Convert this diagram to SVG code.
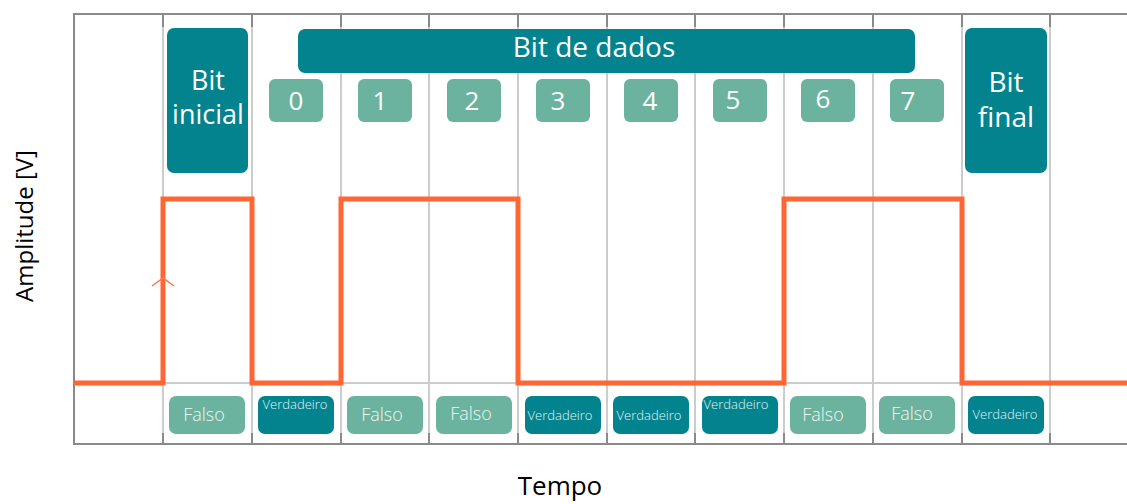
<svg xmlns="http://www.w3.org/2000/svg" width="1127" height="504" viewBox="0 0 1127 504">
<style>
.grid{stroke:#cccccc;stroke-width:2;fill:none}
.tick{stroke:#8a8a8a;stroke-width:2;fill:none}
.frame{stroke:#8a8a8a;stroke-width:2;fill:none}
.teal{fill:#02838E}
.green{fill:#6BB39E}
.big{font-family:"Open Sans","Noto Sans",sans-serif;fill:#ffffff;text-anchor:middle}
.lbl{font-family:"Open Sans","Noto Sans",sans-serif;fill:#000000;text-anchor:middle}
.f{font-family:"Open Sans","Noto Sans",sans-serif;font-weight:300;fill:#eef7f4;text-anchor:middle;font-size:18px}
.v{font-family:"Open Sans","Noto Sans",sans-serif;font-weight:300;fill:#e6f4f4;text-anchor:middle;font-size:13px}
.sig{stroke:#FF6633;stroke-width:5;fill:none}
</style>
<rect width="1127" height="504" fill="#ffffff"/>
<g id="grid">
<line class="grid" x1="74" y1="383" x2="1127" y2="383"/>
<line class="grid" x1="163" y1="14" x2="163" y2="444"/>
<line class="grid" x1="252" y1="14" x2="252" y2="444"/>
<line class="grid" x1="341" y1="14" x2="341" y2="444"/>
<line class="grid" x1="429" y1="14" x2="429" y2="444"/>
<line class="grid" x1="518" y1="14" x2="518" y2="444"/>
<line class="grid" x1="607" y1="14" x2="607" y2="444"/>
<line class="grid" x1="695" y1="14" x2="695" y2="444"/>
<line class="grid" x1="784" y1="14" x2="784" y2="444"/>
<line class="grid" x1="873" y1="14" x2="873" y2="444"/>
<line class="grid" x1="962" y1="14" x2="962" y2="444"/>
<line class="grid" x1="1050" y1="14" x2="1050" y2="444"/>
<path class="tick" d="M163 14V27M252 14V27M341 14V27M429 14V27M518 14V27M607 14V27M695 14V27M784 14V27M873 14V27M962 14V27M1050 14V27"/>
<path class="tick" d="M163 433V444M252 433V444M341 433V444M429 433V444M518 433V444M607 433V444M695 433V444M784 433V444M873 433V444M962 433V444M1050 433V444"/>
<path class="frame" d="M1127 14H74V444H1127"/>
</g>
<g id="connectors">
<path id="signal" class="sig" d="M74 383H163V199H252V383H341V199H518V383H784V199H962V383H1127"/>
<path d="M152 286L163 278L174 286" stroke="#FF7744" stroke-width="1.5" fill="none"/>
</g>
<g id="bit-inicial">
<rect class="teal" x="167" y="28" width="81" height="145" rx="7"/>
<text class="big" x="208" y="90" font-size="27">Bit</text>
<text class="big" x="208" y="124" font-size="27">inicial</text>
</g>
<g id="bit-dados">
<rect class="teal" x="298" y="29" width="617" height="44" rx="7"/>
<text class="big" x="594" y="57" font-size="28">Bit de dados</text>
</g>
<g id="bit-final">
<rect class="teal" x="965" y="28" width="82" height="145" rx="7"/>
<text class="big" x="1006" y="92" font-size="28">Bit</text>
<text class="big" x="1006" y="127" font-size="28">final</text>
</g>
<g id="n0"><rect class="green" x="269" y="79" width="54" height="43" rx="6"/><text class="big" x="296" y="110" font-size="26">0</text></g>
<g id="n1"><rect class="green" x="358" y="79" width="54" height="43" rx="6"/><text class="big" x="380" y="110" font-size="26">1</text></g>
<g id="n2"><rect class="green" x="447" y="79" width="54" height="43" rx="6"/><text class="big" x="472" y="110" font-size="26">2</text></g>
<g id="n3"><rect class="green" x="536" y="79" width="54" height="43" rx="6"/><text class="big" x="558" y="110" font-size="26">3</text></g>
<g id="n4"><rect class="green" x="624" y="79" width="54" height="43" rx="6"/><text class="big" x="650" y="110" font-size="26">4</text></g>
<g id="n5"><rect class="green" x="713" y="79" width="54" height="43" rx="6"/><text class="big" x="733" y="109" font-size="26">5</text></g>
<g id="n6"><rect class="green" x="801" y="79" width="54" height="43" rx="6"/><text class="big" x="823" y="108" font-size="26">6</text></g>
<g id="n7"><rect class="green" x="890" y="79" width="54" height="43" rx="6"/><text class="big" x="908" y="110" font-size="26">7</text></g>
<g id="b0"><rect class="green" x="169" y="396" width="76" height="38" rx="7"/><text class="f" x="204" y="421">Falso</text></g>
<g id="b1"><rect class="teal" x="258" y="396" width="76" height="38" rx="7"/><text class="v" x="295" y="409">Verdadeiro</text></g>
<g id="b2"><rect class="green" x="347" y="396" width="76" height="38" rx="7"/><text class="f" x="382" y="421">Falso</text></g>
<g id="b3"><rect class="green" x="436" y="396" width="76" height="38" rx="7"/><text class="f" x="471" y="420">Falso</text></g>
<g id="b4"><rect class="teal" x="525" y="396" width="76" height="38" rx="7"/><text class="v" x="560" y="420">Verdadeiro</text></g>
<g id="b5"><rect class="teal" x="613" y="396" width="76" height="38" rx="7"/><text class="v" x="649" y="420">Verdadeiro</text></g>
<g id="b6"><rect class="teal" x="702" y="396" width="76" height="38" rx="7"/><text class="v" x="736" y="409">Verdadeiro</text></g>
<g id="b7"><rect class="green" x="790" y="396" width="76" height="38" rx="7"/><text class="f" x="823" y="421">Falso</text></g>
<g id="b8"><rect class="green" x="879" y="396" width="76" height="38" rx="7"/><text class="f" x="912" y="420">Falso</text></g>
<g id="b9"><rect class="teal" x="968" y="396" width="76" height="38" rx="7"/><text class="v" x="1005" y="419">Verdadeiro</text></g>
<g id="axes">
<text class="lbl" x="0" y="0" font-size="24" transform="translate(33 226) rotate(-90)">Amplitude [V]</text>
<text class="lbl" x="560" y="495" font-size="26">Tempo</text>
</g>
</svg>
